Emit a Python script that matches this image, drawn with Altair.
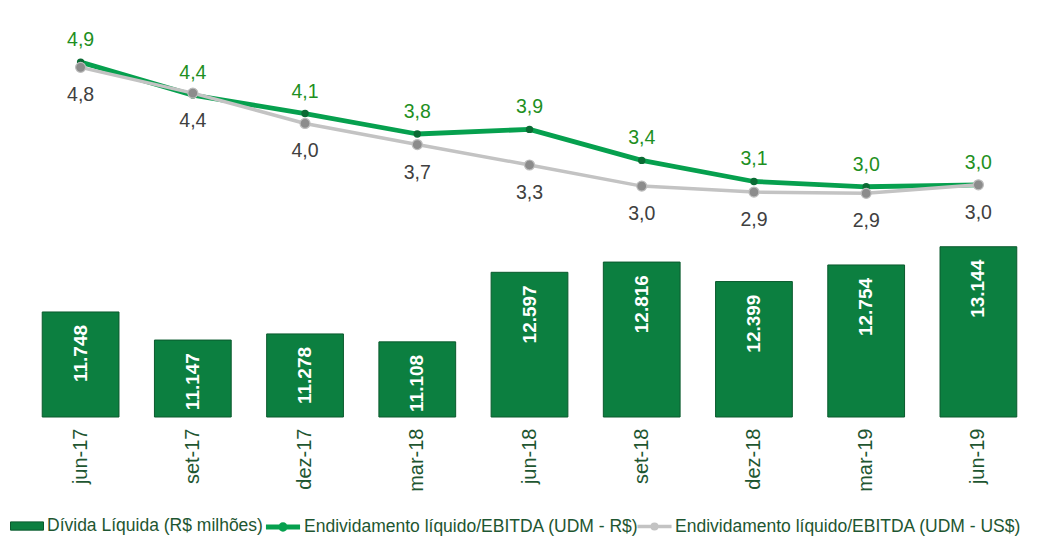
import altair as alt
import pandas as pd

# ---- data ----
periods = ["jun-17", "set-17", "dez-17", "mar-18", "jun-18", "set-18", "dez-18", "mar-19", "jun-19"]
divida = [11748, 11147, 11278, 11108, 12597, 12816, 12399, 12754, 13144]
divida_lbl = ["11.748", "11.147", "11.278", "11.108", "12.597", "12.816", "12.399", "12.754", "13.144"]
ratio_brl = [4.88, 4.38, 4.10, 3.79, 3.86, 3.39, 3.07, 2.99, 3.02]
ratio_brl_lbl = ["4,9", "4,4", "4,1", "3,8", "3,9", "3,4", "3,1", "3,0", "3,0"]
ratio_usd = [4.80, 4.41, 3.95, 3.63, 3.32, 3.00, 2.91, 2.89, 3.02]
ratio_usd_lbl = ["4,8", "4,4", "4,0", "3,7", "3,3", "3,0", "2,9", "2,9", "3,0"]

S_BAR = "Dívida Líquida (R$ milhões)"
S_BRL = "Endividamento líquido/EBITDA (UDM - R$)"
S_USD = "Endividamento líquido/EBITDA (UDM - US$)"

FONT = "Liberation Sans"
BAR_FILL = "#0C7F40"
BAR_STROKE = "#0A5A2D"
LINE_GREEN = "#06A04E"
DOT_GREEN = "#0A6B34"
LINE_GRAY = "#C3C3C3"
DOT_GRAY = "#8C8C8C"
TXT_GREEN = "#1E8F22"
TXT_GRAY = "#404040"
AXIS_TXT = "#1E5631"

bars_df = pd.DataFrame({"periodo": periods, "divida": divida, "lbl": divida_lbl, "serie": S_BAR})
brl_df = pd.DataFrame({"periodo": periods, "valor": ratio_brl, "lbl": ratio_brl_lbl, "serie": S_BRL})
usd_df = pd.DataFrame({"periodo": periods, "valor": ratio_usd, "lbl": ratio_usd_lbl, "serie": S_USD})
lines_df = pd.concat([brl_df, usd_df], ignore_index=True)

x_enc = alt.X(
    "periodo:N",
    sort=periods,
    scale=alt.Scale(paddingInner=0.316, paddingOuter=0.1),
    axis=alt.Axis(
        title=None, labelAngle=270, labelAlign="right", labelBaseline="middle",
        labelFontSize=20, labelFont=FONT, labelColor=AXIS_TXT,
        ticks=False, domain=False, labelPadding=11, grid=False,
    ),
)

ybar_scale = alt.Scale(domain=[9500, 18254], zero=False, nice=False)
yline_scale = alt.Scale(domain=[-0.5, 5.70], zero=False, nice=False)

LINE_SYMBOL = "M-1.1,0H1.1M-0.15,0A0.15,0.15,0,1,1,0.15,0A0.15,0.15,0,1,1,-0.15,0Z"
BAR_SYMBOL = "M-1,-0.25H1V0.25H-1Z"

bar_legend = alt.Legend(
    title=None, orient="none", legendX=-21, legendY=501, symbolType=BAR_SYMBOL,
    symbolSize=1089, symbolStrokeColor=BAR_STROKE, symbolStrokeWidth=1,
    labelFont=FONT, labelFontSize=17.5, labelColor=AXIS_TXT, labelOffset=3,
    labelLimit=600, padding=0,
)
line_legend = alt.Legend(
    title=None, orient="none", legendX=234, legendY=501, direction="horizontal",
    symbolType=LINE_SYMBOL, symbolSize=961, symbolStrokeWidth=3.5,
    labelFont=FONT, labelFontSize=17.5, labelColor=AXIS_TXT, labelOffset=3,
    labelLimit=600, columnPadding=-9, padding=0, gridAlign="none",
)

bars = alt.Chart(bars_df).mark_bar(stroke=BAR_STROKE, strokeWidth=1).encode(
    x=x_enc,
    y=alt.Y("divida:Q", scale=ybar_scale, axis=None),
    y2=alt.datum(9500),
    color=alt.Color("serie:N", scale=alt.Scale(domain=[S_BAR], range=[BAR_FILL]), legend=bar_legend),
)

bar_text = alt.Chart(bars_df).mark_text(
    angle=270, align="right", baseline="middle", dx=-13,
    color="white", fontWeight="bold", fontSize=19, font=FONT,
).encode(
    x=alt.X("periodo:N", sort=periods),
    y=alt.Y("divida:Q", scale=ybar_scale, axis=None),
    text="lbl:N",
)

stroke_scale = alt.Scale(domain=[S_BRL, S_USD], range=[LINE_GREEN, LINE_GRAY])
fill_scale = alt.Scale(domain=[S_BRL, S_USD], range=[DOT_GREEN, DOT_GRAY])

lines = alt.Chart(lines_df).mark_line(strokeCap="round", strokeJoin="round").encode(
    x=alt.X("periodo:N", sort=periods),
    y=alt.Y("valor:Q", scale=yline_scale, axis=None),
    stroke=alt.Stroke("serie:N", scale=stroke_scale, legend=line_legend),
    strokeWidth=alt.StrokeWidth("serie:N", scale=alt.Scale(domain=[S_BRL, S_USD], range=[4.8, 3.5]), legend=None),
)

pts_brl = alt.Chart(brl_df).mark_point(filled=True, size=55, opacity=1).encode(
    x=alt.X("periodo:N", sort=periods),
    y=alt.Y("valor:Q", scale=yline_scale, axis=None),
    fill=alt.Fill("serie:N", scale=fill_scale, legend=None),
)
pts_usd = alt.Chart(usd_df).mark_point(filled=True, size=100, opacity=1, stroke="#BDBDBD", strokeWidth=1.2).encode(
    x=alt.X("periodo:N", sort=periods),
    y=alt.Y("valor:Q", scale=yline_scale, axis=None),
    fill=alt.Fill("serie:N", scale=fill_scale, legend=None),
)

txt_brl = alt.Chart(brl_df).mark_text(
    baseline="middle", align="center", dy=-22, fontSize=19.5, font=FONT, color=TXT_GREEN,
).encode(
    x=alt.X("periodo:N", sort=periods),
    y=alt.Y("valor:Q", scale=yline_scale, axis=None),
    text="lbl:N",
)
txt_usd = alt.Chart(usd_df).mark_text(
    baseline="middle", align="center", dy=28, fontSize=19.5, font=FONT, color=TXT_GRAY,
).encode(
    x=alt.X("periodo:N", sort=periods),
    y=alt.Y("valor:Q", scale=yline_scale, axis=None),
    text="lbl:N",
)

bar_layer = alt.layer(bars, bar_text)
line_layer = alt.layer(lines, pts_brl, pts_usd, txt_brl, txt_usd)

chart = (
    alt.layer(bar_layer, line_layer)
    .resolve_scale(y="independent")
    .properties(
        width=997, height=409,
        autosize=alt.AutoSizeParams(type="none"),
        padding={"left": 23, "top": 0, "right": 2, "bottom": 122},
        background="white",
    )
    .configure_view(stroke=None)
)

chart.save("out.html", embed_options={"renderer": "svg", "actions": False})
